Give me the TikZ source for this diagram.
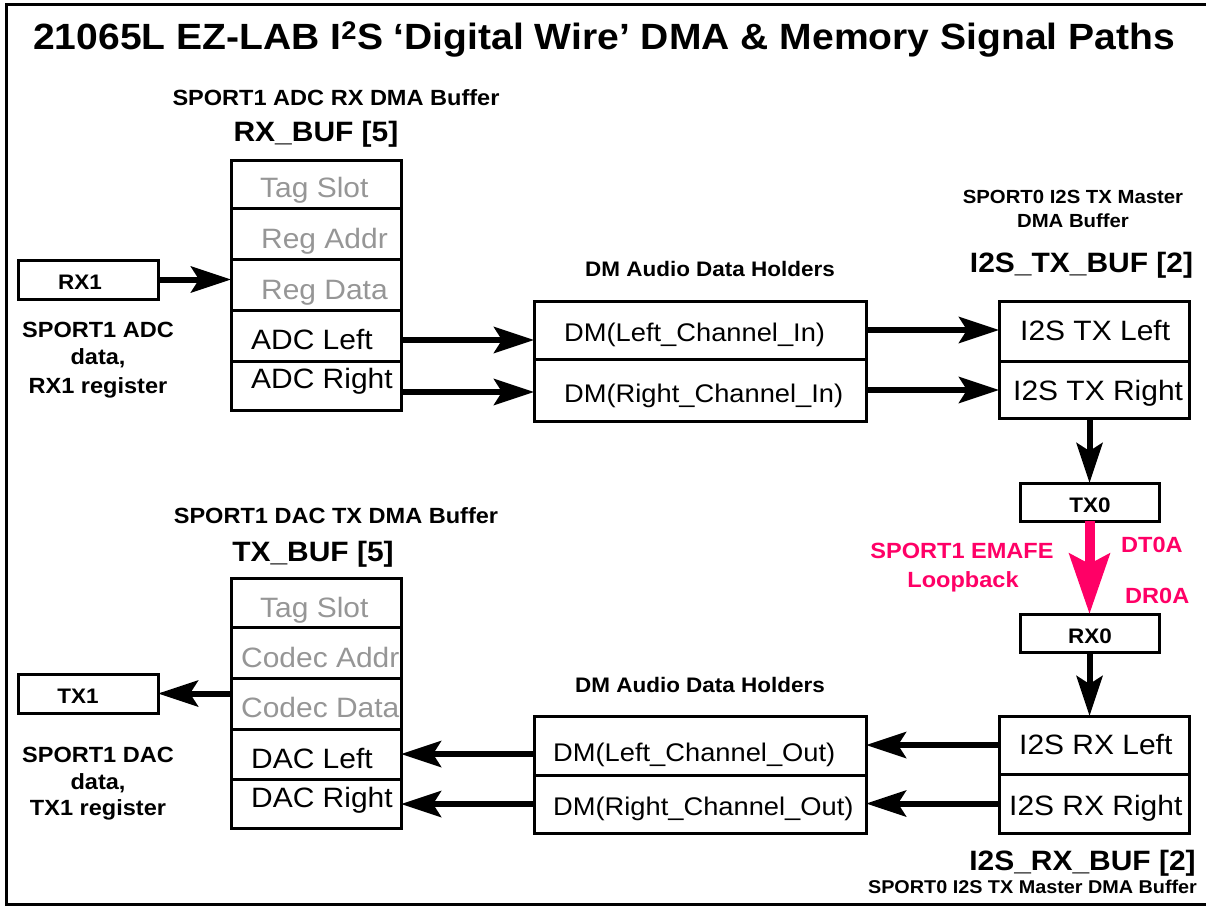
\documentclass[tikz,border=0pt]{standalone}
\usepackage{fontspec}
\setmainfont{Liberation Sans}[FakeStretch=1.07]
\usetikzlibrary{arrows.meta}
\definecolor{pinkc}{RGB}{255,0,102}
\definecolor{slotgray}{RGB}{150,150,150}
\begin{document}
\begin{tikzpicture}[x=1pt,y=-1pt,
  box/.style={draw, line width=3pt, inner sep=0pt, outer sep=0pt},
  arr/.style={line width=6pt, -{Stealth[length=40pt,width=26pt,inset=8pt]}},
  parr/.style={draw=pinkc, line width=10pt, -{Stealth[length=60pt,width=40pt,inset=10pt]}},
  tb/.style={inner sep=0pt, anchor=base, font=\bfseries\fontsize{#1}{#1}\selectfont},
  tw/.style={inner sep=0pt, anchor=base west, font=\fontsize{#1}{#1}\selectfont},
  slot/.style={tw=28, text=slotgray},
  pk/.style={text=pinkc}
]
\useasboundingbox (0,0) rectangle (1206,907);
\draw[line width=3pt] (1210,4.5) -- (6,4.5) -- (6,904) -- (1210,904);

% title
\node[tb=36.5] (title) at (604,49) {21065L EZ-LAB I\textsuperscript{2}S ‘Digital Wire’ DMA \& Memory Signal Paths};

% ---------- RX_BUF ----------
\node[tb=22] (hrx) at (336,105) {SPORT1 ADC RX DMA Buffer};
\node[tb=28] (hrxb) at (316,141) {RX\_BUF [5]};
\node[box, minimum width=170pt, minimum height=48pt] (rxtag) at (316,184) {};
\node[box, minimum width=170pt, minimum height=51pt] (rxaddr) at (316,233.5) {};
\node[box, minimum width=170pt, minimum height=51pt] (rxdata) at (316,284.5) {};
\node[box, minimum width=170pt, minimum height=51pt] (rxl) at (316,335.5) {};
\node[box, minimum width=170pt, minimum height=49pt] (rxr) at (316,385.5) {};
\node[slot] (rxtagt) at (260,197) {Tag Slot};
\node[slot] (rxaddrt) at (261,248) {Reg Addr};
\node[slot] (rxdatat) at (261,299) {Reg Data};
\node[tw=28] (rxlt) at (251,349) {ADC Left};
\node[tw=28] (rxrt) at (251,388) {ADC Right};

\node[box, minimum width=140pt, minimum height=39pt] (rx1) at (88,279.5) {};
\node[tb=21] (rx1t) at (80,289) {RX1};
\node[tb=22] (rxl1) at (98,337) {SPORT1 ADC};
\node[tb=22] (rxl2) at (98,364) {data,};
\node[tb=22] (rxl3) at (98,393) {RX1 register};

% ---------- TX_BUF ----------
\node[tb=22] (htx) at (336,523) {SPORT1 DAC TX DMA Buffer};
\node[tb=28] (htxb) at (313,561) {TX\_BUF [5]};
\node[box, minimum width=170pt, minimum height=49pt] (txtag) at (316,602.5) {};
\node[box, minimum width=170pt, minimum height=51pt] (txaddr) at (316,652.5) {};
\node[box, minimum width=170pt, minimum height=51pt] (txdata) at (316,703.5) {};
\node[box, minimum width=170pt, minimum height=50pt] (dacl) at (316,754) {};
\node[box, minimum width=170pt, minimum height=49pt] (dacr) at (316,803.5) {};
\node[slot] (txtagt) at (260,617) {Tag Slot};
\node[slot] (txaddrt) at (241,667) {Codec Addr};
\node[slot] (txdatat) at (241,717) {Codec Data};
\node[tw=28] (daclt) at (251,768) {DAC Left};
\node[tw=28] (dacrt) at (251,807) {DAC Right};

\node[box, minimum width=140pt, minimum height=39pt] (tx1) at (88,693.5) {};
\node[tb=21] (tx1t) at (78,703) {TX1};
\node[tb=22] (txl1) at (98,762) {SPORT1 DAC};
\node[tb=22] (txl2) at (98,789) {data,};
\node[tb=22] (txl3) at (98,815) {TX1 register};

% ---------- DM holders ----------
\node[tb=21] (hdmin) at (710,276) {DM Audio Data Holders};
\node[box, minimum width=332pt, minimum height=58pt] (dminl) at (700,330) {};
\node[box, minimum width=332pt, minimum height=62pt] (dminr) at (700,390) {};
\node[tw=25.5] (dminlt) at (564,341) {DM(Left\_Channel\_In)};
\node[tw=25.5] (dminrt) at (564,402) {DM(Right\_Channel\_In)};

\node[tb=21] (hdmout) at (700,692) {DM Audio Data Holders};
\node[box, minimum width=332pt, minimum height=59pt] (dmoutl) at (700,745.5) {};
\node[box, minimum width=332pt, minimum height=58pt] (dmoutr) at (700,804) {};
\node[tw=25.5] (dmoutlt) at (553,761) {DM(Left\_Channel\_Out)};
\node[tw=25.5] (dmoutrt) at (553,815) {DM(Right\_Channel\_Out)};

% ---------- I2S TX ----------
\node[tb=19] (hi2s1) at (1073,203) {SPORT0 I2S TX Master};
\node[tb=19] (hi2s2) at (1073,227) {DMA Buffer};
\node[tb=28] (hi2stx) at (1081.5,272) {I2S\_TX\_BUF [2]};
\node[box, minimum width=190pt, minimum height=60pt] (i2stxl) at (1094,331) {};
\node[box, minimum width=190pt, minimum height=57pt] (i2stxr) at (1094,389.5) {};
\node[tw=28] (i2stxlt) at (1020,340) {I2S TX Left};
\node[tw=28] (i2stxrt) at (1013,400) {I2S TX Right};

\node[box, minimum width=139pt, minimum height=38pt] (tx0) at (1089.5,502) {};
\node[tb=21] (tx0t) at (1090,512) {TX0};
\node[box, minimum width=139pt, minimum height=38pt] (rx0) at (1089.5,633) {};
\node[tb=21] (rx0t) at (1090,643) {RX0};

\node[tb=22, pk] (lb1) at (962,558) {SPORT1 EMAFE};
\node[tb=22, pk] (lb2) at (963,587) {Loopback};
\node[tb=22, pk, anchor=base west] (dt0a) at (1121,552) {DT0A};
\node[tb=22, pk, anchor=base west] (dr0a) at (1125,603) {DR0A};

% ---------- I2S RX ----------
\node[box, minimum width=190pt, minimum height=58pt] (i2srxl) at (1094,745) {};
\node[box, minimum width=190pt, minimum height=59pt] (i2srxr) at (1094,803.5) {};
\node[tw=28] (i2srxlt) at (1019,754) {I2S RX Left};
\node[tw=28] (i2srxrt) at (1009,815) {I2S RX Right};
\node[tb=28] (hi2srx) at (1082.5,870) {I2S\_RX\_BUF [2]};
\node[tb=18.5] (hi2srx2) at (1032.5,893) {SPORT0 I2S TX Master DMA Buffer};

% ---------- connectors ----------
\coordinate (a1) at ([yshift=-4.5pt]rxl.east);
\coordinate (a2) at ([yshift=-6.5pt]rxr.east);
\draw[arr] (rx1.east) -- (rx1.east -| rxdata.west);
\draw[arr] (a1) -- (a1 -| dminl.west);
\draw[arr] (a2) -- (a2 -| dminr.west);
\draw[arr] (dminl.east) -- (dminl.east -| i2stxl.west);
\draw[arr] (dminr.east) -- (dminr.east -| i2stxr.west);
\draw[arr] (tx0.north |- i2stxr.south) -- (tx0.north);
\draw[parr] (tx0.south) -- (rx0.north);
\draw[arr] (rx0.south) -- (rx0.south |- i2srxl.north);
\draw[arr] (i2srxl.west) -- (i2srxl.west -| dmoutl.east);
\draw[arr] (i2srxr.west) -- (i2srxr.west -| dmoutr.east);
\draw[arr] (dacl.east -| dmoutl.west) -- (dacl.east);
\draw[arr] (dmoutr.west) -- (dmoutr.west -| dacr.east);
\draw[arr] (txdata.west |- tx1.east) -- (tx1.east);
\end{tikzpicture}
\end{document}
